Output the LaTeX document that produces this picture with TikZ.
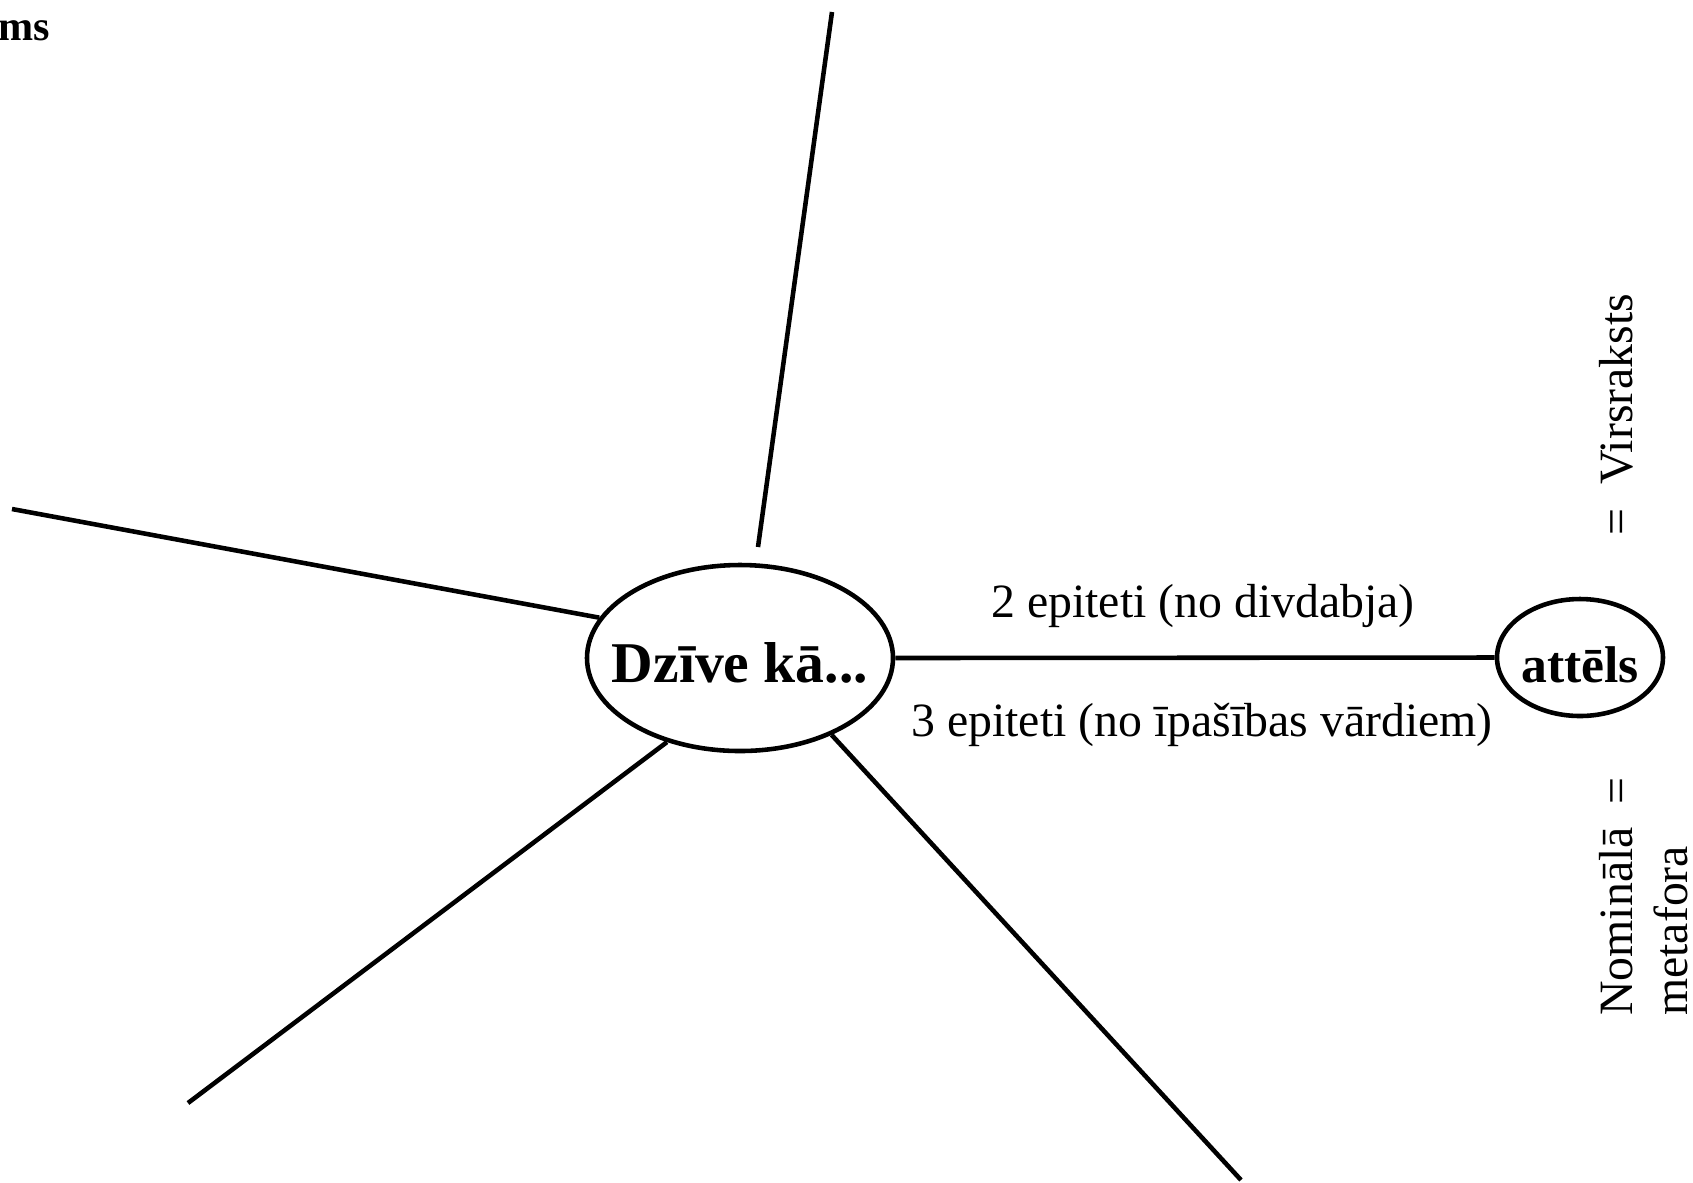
\documentclass[tikz,border=0pt]{standalone}
\usepackage{fontspec}
\setmainfont{Liberation Serif}
\usetikzlibrary{shapes.geometric}
\begin{document}
\begin{tikzpicture}[line width=1.3pt,
	bubble/.style={draw,ellipse,inner sep=0pt},
	lbl/.style={inner sep=0pt,font=\fontsize{13.6}{16}\selectfont},
	vtxt/.style={lbl,rotate=90,anchor=base west}]
		\useasboundingbox (0,0) rectangle (16.93,-11.82);
		\node[bubble,minimum width=3.06cm,minimum height=1.86cm,font=\fontsize{16.4}{19}\selectfont\bfseries] (dz) at (7.40,-6.58) {\makebox[0pt]{\raisebox{-2.4mm}[0pt][0pt]{Dzīve kā...}}};
		\node[bubble,minimum width=1.66cm,minimum height=1.17cm,font=\fontsize{14.7}{17}\selectfont\bfseries] (att) at (15.80,-6.575) {\makebox[0pt]{\raisebox{-2.45mm}[0pt][0pt]{attēls}}};
		\coordinate (ul) at (0.12,-5.09);
		\coordinate (ll) at (1.88,-11.03);
		\coordinate (lr) at (12.41,-11.80);
		\coordinate (tb) at (7.58,-5.47);
		\coordinate (tt) at (8.32,-0.12);
		\draw (tb)--(tt);
		\draw (dz.164)--(ul);
		\draw (dz.229)--(ll);
		\draw (dz.320)--(lr);
		\draw (dz.east)--(att.west)
			node[lbl,midway,anchor=base,xshift=0.8mm,yshift=4mm] {2 epiteti (no divdabja)}
			node[lbl,midway,anchor=base,xshift=0.7mm,yshift=-7.9mm] {3 epiteti (no īpašības vārdiem)};
		\node[vtxt] (vir) at (16.32,-5.38) {=\hspace{2.4mm}Virsraksts};
		\node[vtxt] (nom) at (16.32,-10.18) {Nominālā\hspace{2.3mm}=};
		\node[vtxt] (met) at (16.87,-10.18) {metafora};
		\node[anchor=base east,inner sep=0pt,font=\fontsize{12}{14}\selectfont\bfseries] (ms) at (0.52,-0.40) {ms};
\end{tikzpicture}
\end{document}
